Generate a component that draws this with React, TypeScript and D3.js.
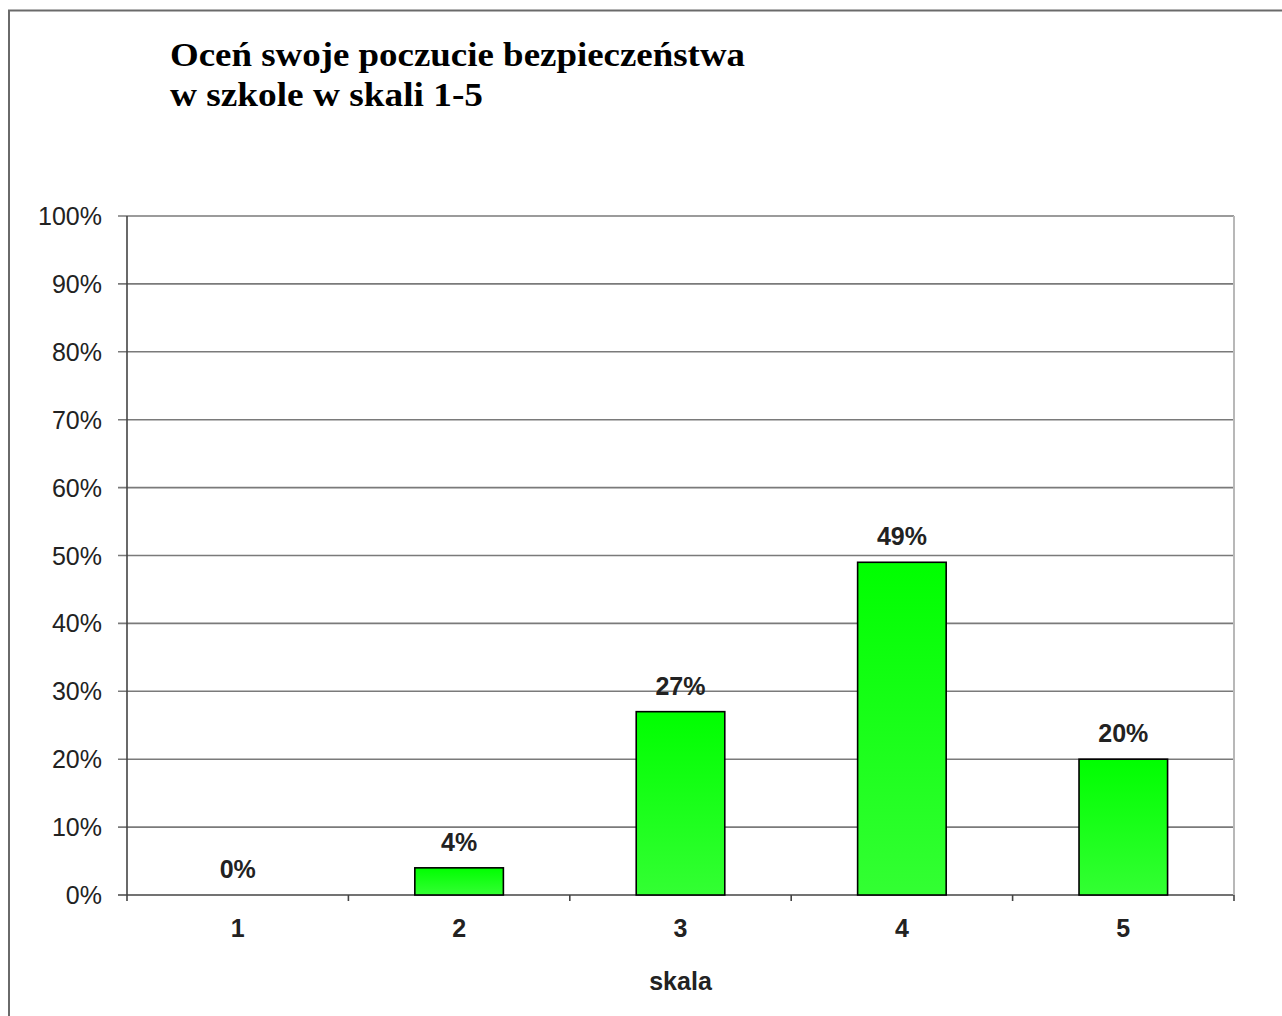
import React from "react";
import * as d3 from "d3";

const categories = ["1", "2", "3", "4", "5"];
const values = [0, 4, 27, 49, 20];
const yTicks = [0, 10, 20, 30, 40, 50, 60, 70, 80, 90, 100];
const titleLines = ["Oceń swoje poczucie bezpieczeństwa", "w szkole w skali 1-5"];
const titleWidths = [575, 313];
const xAxisTitle = "skala";

export default function App() {
  const W = 1282, H = 1016;
  const left = 127, right = 1234, top = 216, bottom = 895;
  const x = d3.scaleBand<string>().domain(categories).range([left, right]).paddingInner(0).paddingOuter(0);
  const y = d3.scaleLinear().domain([0, 100]).range([bottom, top]);
  const bw = x.bandwidth() * 0.4;
  const arial = "Arial, 'Liberation Sans', sans-serif";
  return (
    <svg width={W} height={H} style={{ position: "absolute", left: 0, top: 0, background: "#fff" }}>
      <defs>
        <linearGradient id="barGrad" x1="0" y1="0" x2="0" y2="1">
          <stop offset="0%" stopColor="#00ff00" />
          <stop offset="100%" stopColor="#33ff33" />
        </linearGradient>
      </defs>
      <rect x={9} y={10.5} width={1300} height={1100} fill="none" stroke="#6a6a6a" strokeWidth={2} />
      {titleLines.map((t, i) => (
        <text key={i} x={170} y={66 + i * 40} textLength={titleWidths[i]} lengthAdjust="spacingAndGlyphs" fontFamily="'Times New Roman', 'Liberation Serif', serif" fontWeight="bold" fontSize={33} fill="#000">{t}</text>
      ))}
      {yTicks.map((t) => (
        <line key={t} x1={left - 9} x2={right} y1={y(t)} y2={y(t)} stroke={t === 0 ? "#444" : "#7a7a7a"} strokeWidth={1.6} />
      ))}
      <line x1={right} x2={right} y1={top} y2={bottom} stroke="#b8b8b8" strokeWidth={2} />
      <line x1={left} x2={left} y1={top} y2={bottom + 6} stroke="#444" strokeWidth={1.6} />
      {yTicks.map((t) => (
        <text key={"l" + t} x={102} y={y(t) + 9} textAnchor="end" fontFamily={arial} fontSize={25} fill="#222">{t}%</text>
      ))}
      {categories.map((c) => (
        <line key={"t" + c} x1={x(c)! + x.bandwidth()} x2={x(c)! + x.bandwidth()} y1={bottom} y2={bottom + 6} stroke="#444" strokeWidth={1.6} />
      ))}
      {categories.map((c, i) => {
        const v = values[i];
        const bx = x(c)! + (x.bandwidth() - bw) / 2;
        return (
          <g key={"b" + c}>
            {v > 0 && (
              <rect x={bx} y={y(v)} width={bw} height={y(0) - y(v)} fill="url(#barGrad)" stroke="#000" strokeWidth={1.6} />
            )}
            <text x={x(c)! + x.bandwidth() / 2} y={y(v) - 17} textAnchor="middle" fontFamily={arial} fontWeight="bold" fontSize={25} fill="#222">{v}%</text>
            <text x={x(c)! + x.bandwidth() / 2} y={937} textAnchor="middle" fontFamily={arial} fontWeight="bold" fontSize={25} fill="#222">{c}</text>
          </g>
        );
      })}
      <text x={(left + right) / 2} y={990} textAnchor="middle" fontFamily={arial} fontWeight="bold" fontSize={25} fill="#222">{xAxisTitle}</text>
    </svg>
  );
}
